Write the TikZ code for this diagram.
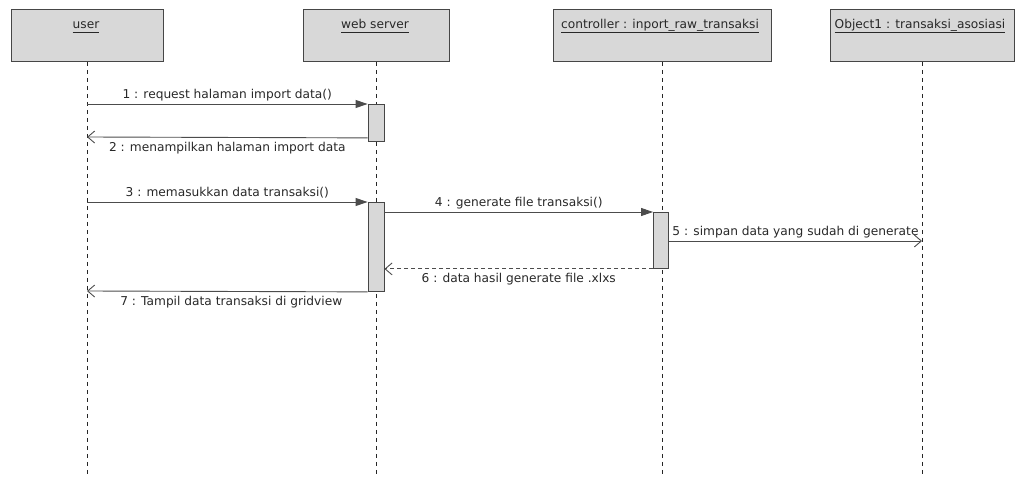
\documentclass[tikz,border=0pt]{standalone}
\usepackage{fontspec}
\setmainfont{DejaVu Sans}
\usetikzlibrary{arrows.meta,calc}
\definecolor{boxfill}{RGB}{216,216,216}
\definecolor{boxline}{RGB}{70,70,70}
\definecolor{ink}{RGB}{40,40,40}
% underlined object name, rule placed at underscore depth
\newcommand\ulname[1]{\setbox0=\hbox{#1}\rlap{\rule[-3.5pt]{\wd0}{0.9pt}}\box0}
\begin{document}
\begin{tikzpicture}[x=1pt,y=-1pt,
  font=\fontsize{12.2}{14}\selectfont, text=ink,
  objbox/.style={draw=boxline, fill=boxfill, line width=0.9pt, minimum height=52pt, inner sep=0pt, anchor=north},
  objname/.style={anchor=base, inner sep=0pt},
  lifeline/.style={draw=black!85, line width=0.9pt, dash pattern=on 4pt off 4pt},
  actbox/.style={draw=boxline, fill=boxfill, line width=0.9pt},
  callmsg/.style={draw=black!70, line width=0.9pt, -{Triangle[length=12pt,width=8pt]}},
  retmsg/.style={draw=black!70, line width=0.9pt, -{Straight Barb[length=7pt,width=12pt]}},
  retdash/.style={retmsg, dash pattern=on 4pt off 3pt},
  msgtext/.style={midway, inner sep=1pt}
]
\useasboundingbox (0,0) rectangle (1018,478);

% object boxes
\node[objbox, minimum width=152pt] (user) at (87,9) {};
\node[objbox, minimum width=146pt] (web)  at (376,9) {};
\node[objbox, minimum width=218pt] (ctrl) at (662,9) {};
\node[objbox, minimum width=184pt] (obj)  at (922,9) {};
\node[objname] (userT) at (86,29)  {\ulname{user}};
\node[objname] (webT)  at (375,29) {\ulname{web server}};
\node[objname] (ctrlT) at (660,29) {\ulname{controller : inport\_raw\_transaksi}};
\node[objname] (objT)  at (920,29) {\ulname{Object1 : transaksi\_asosiasi}};

% lifelines
\coordinate (userEnd) at (87,474);
\coordinate (webEnd)  at (376,474);
\coordinate (ctrlEnd) at (662,474);
\coordinate (objEnd)  at (922,474);
\draw[lifeline] (user.south) -- (userEnd);
\draw[lifeline] (web.south)  -- (webEnd);
\draw[lifeline] (ctrl.south) -- (ctrlEnd);
\draw[lifeline] (obj.south)  -- (objEnd);

% activation bars
\node[actbox, minimum width=16pt, minimum height=37pt, inner sep=0pt, anchor=north] (act1) at (376,104) {};
\node[actbox, minimum width=16pt, minimum height=89pt, inner sep=0pt, anchor=north] (act2) at (376,202) {};
\node[actbox, minimum width=15pt, minimum height=56pt, inner sep=0pt, anchor=north] (act3) at (661,212) {};

% lifeline anchor points
\coordinate (u1) at (87,104);
\coordinate (u2) at (87,137);
\coordinate (u3) at (87,202);
\coordinate (u7) at (87,291);
\coordinate (o5) at (922,241);

% messages
\draw[callmsg] (u1) -- (act1.north west)
  node[msgtext, above=2pt] {1 : request halaman import data()};
\draw[retmsg] ($(act1.south west)+(0,-4)$) -- (u2)
  node[msgtext, below=3pt] {2 : menampilkan halaman import data};
\draw[callmsg] (u3) -- (act2.north west)
  node[msgtext, above=2pt] {3 : memasukkan data transaksi()};
\draw[callmsg] ($(act2.north east)+(0,10)$) -- (act3.north west)
  node[msgtext, above=2pt] {4 : generate file transaksi()};
\draw[retmsg] (act3.east |- o5) -- (o5)
  node[msgtext, above=2pt] {5 : simpan data yang sudah di generate};
\draw[retdash] (act3.south west) -- (act2.east |- act3.south west)
  node[msgtext, below=3pt] {6 : data hasil generate file .xlxs};
\draw[retmsg] (act2.south west) -- (u7)
  node[msgtext, below=3pt, xshift=4pt] {7 : Tampil data transaksi di gridview};
\end{tikzpicture}
\end{document}
